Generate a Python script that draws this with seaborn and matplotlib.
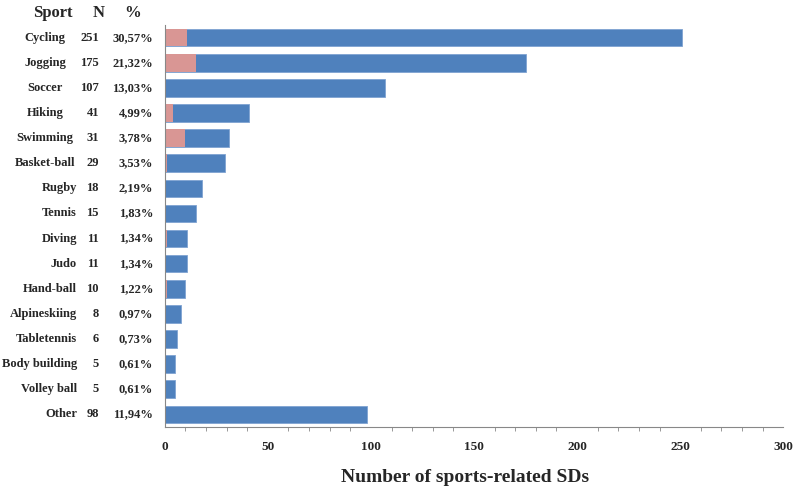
import numpy as np
import pandas as pd
import matplotlib.pyplot as plt
import matplotlib.transforms as mtransforms
from matplotlib.ticker import MultipleLocator
import seaborn as sns


# Datos
sports = ["Cycling", "Jogging", "Soccer", "Hiking", "Swimming", "Basket-ball",
          "Rugby", "Tennis", "Diving", "Judo", "Hand-ball", "Alpineskiing",
          "Tabletennis", "Body building", "Volley ball", "Other"]
n_total = [251, 175, 107, 41, 31, 29, 18, 15, 11, 11, 10, 8, 6, 5, 5, 98]
n_pink = [11, 15, 0, 4, 10, 1, 0, 0, 1, 0, 1, 0, 0, 0, 0, 0]
pct = ["30,57%", "21,32%", "13,03%", "4,99%", "3,78%", "3,53%", "2,19%",
       "1,83%", "1,34%", "1,34%", "1,22%", "0,97%", "0,73%", "0,61%",
       "0,61%", "11,94%"]

df = pd.DataFrame({"sport": sports, "total": n_total, "pink": n_pink})

sns.set_style("white")
plt.rcParams["font.family"] = ["Liberation Serif", "DejaVu Serif"]
plt.rcParams["font.weight"] = "bold"

blue = "#4F81BD"
pink = "#D99694"

fig = plt.figure(figsize=(8, 4.93), dpi=100)
ax = fig.add_axes([0.206, 0.134, 0.773, 0.815])

# Barras totales y parte rosa encima
sns.barplot(data=df, y="sport", x="total", color=blue, saturation=1,
            width=0.7, edgecolor="#7fa3d2", linewidth=0.6, ax=ax)
sns.barplot(data=df, y="sport", x="pink", color=pink, saturation=1,
            width=0.7, linewidth=0, ax=ax)

ax.set_xlim(0, 300)
ax.set_ylim(15.5, -0.5)
ax.xaxis.set_major_locator(MultipleLocator(50))
ax.xaxis.set_minor_locator(MultipleLocator(10))
ax.tick_params(axis="x", which="major", length=4, width=0.8, color="#888888",
               direction="out", pad=6, labelsize=9.5)
ax.tick_params(axis="x", which="minor", length=3, width=0.6, color="#888888",
               direction="out", bottom=True)
ax.tick_params(axis="y", length=0)
ax.set_yticklabels([])
ax.set_ylabel("")
ax.set_xlabel("Number of sports-related SDs", fontsize=14, fontweight="bold",
              labelpad=12)
ax.xaxis.label.set_x(0.485)
for lbl in ax.get_xticklabels():
    lbl.set_fontweight("bold")

sns.despine(ax=ax, top=True, right=True)
for side in ["left", "bottom"]:
    ax.spines[side].set_color("#888888")
    ax.spines[side].set_linewidth(0.8)

# Columnas de texto a la izquierda
trans = mtransforms.blended_transform_factory(fig.transFigure, ax.transData)
fw = 800.0
for i, s in enumerate(sports):
    if i < 6:
        ax.text(45 / fw, i, s, transform=trans, ha="center", va="center",
                fontsize=9, fontweight="bold")
    else:
        ax.text(77 / fw, i, s, transform=trans, ha="right", va="center",
                fontsize=9, fontweight="bold")
    ax.text(99 / fw, i, str(n_total[i]), transform=trans, ha="right",
            va="center", fontsize=9, fontweight="bold")
    ax.text(153 / fw, i, pct[i], transform=trans, ha="right", va="center",
            fontsize=9, fontweight="bold")

fig.text(53 / fw, 1 - 13 / 493, "Sport", ha="center", va="center",
         fontsize=12, fontweight="bold")
fig.text(99 / fw, 1 - 13 / 493, "N", ha="center", va="center",
         fontsize=12, fontweight="bold")
fig.text(133 / fw, 1 - 13 / 493, "%", ha="center", va="center",
         fontsize=12, fontweight="bold")

fig.savefig("out.png", dpi=100)
